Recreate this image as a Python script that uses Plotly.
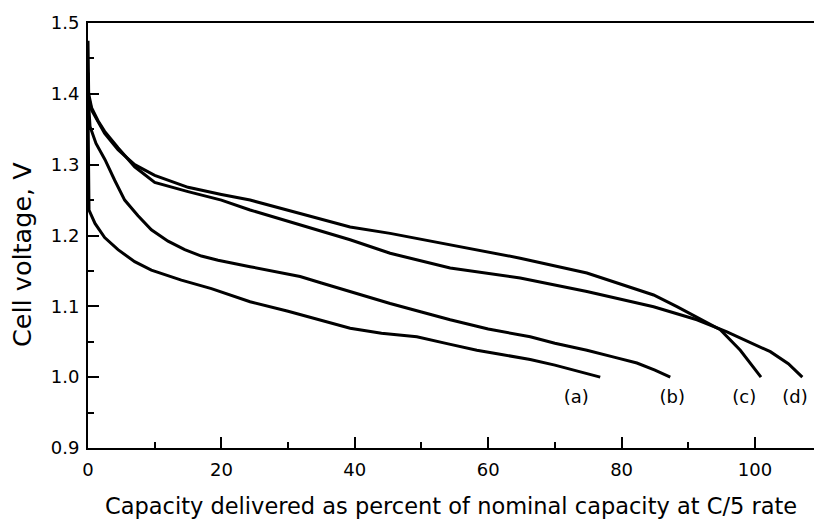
import plotly.graph_objects as go

# Curve (a)
a_x = [0, 0.15, 1.05, 2.5, 4.5, 7, 9.5, 14, 18.5, 24.3, 30, 35, 39.3, 44, 49.3, 54, 58.3, 62, 66.3, 70, 74, 76.8]
a_y = [1.38, 1.236, 1.217, 1.197, 1.18, 1.163, 1.151, 1.137, 1.125, 1.1065, 1.093, 1.08, 1.069, 1.062, 1.057, 1.047, 1.038, 1.032, 1.025, 1.017, 1.007, 1.0]

# Curve (b)
b_x = [0, 0.1, 0.3, 1.2, 2.55, 4, 5.5, 7.5, 9.5, 12, 14.5, 17, 19.5, 24.3, 27, 31.8, 35, 39.3, 45.3, 50, 54.3, 60, 66.3, 70, 74.8, 79, 82.3, 85, 87.3]
b_y = [1.40, 1.385, 1.354, 1.33, 1.307, 1.278, 1.25, 1.228, 1.208, 1.192, 1.18, 1.171, 1.165, 1.156, 1.151, 1.142, 1.133, 1.121, 1.104, 1.092, 1.081, 1.068, 1.057, 1.048, 1.038, 1.028, 1.020, 1.010, 1.0]

# Curve (c)
c_x = [0, 0.1, 0.55, 1.5, 2.5, 4.5, 7, 10, 15, 20, 24.3, 31.8, 39.3, 45.3, 54.3, 64.8, 74.8, 79.8, 84.8, 88.3, 91.3, 94.8, 97.8, 99.7, 100.9]
c_y = [1.43, 1.395, 1.377, 1.36, 1.344, 1.321, 1.300, 1.285, 1.268, 1.258, 1.250, 1.231, 1.212, 1.203, 1.187, 1.168, 1.147, 1.132, 1.116, 1.0995, 1.085, 1.067, 1.038, 1.015, 1.0]

# Curve (d)
d_x = [0, 0.1, 0.55, 1.5, 2.5, 4.5, 7, 10, 15, 20, 24.3, 31.8, 39.3, 45.3, 54.3, 64.8, 74.8, 84.8, 91.3, 95.8, 99, 102.3, 105, 107.1]
d_y = [1.475, 1.40, 1.380, 1.362, 1.347, 1.324, 1.297, 1.275, 1.262, 1.250, 1.236, 1.215, 1.194, 1.175, 1.154, 1.140, 1.121, 1.0995, 1.081, 1.064, 1.050, 1.036, 1.019, 1.0]

labels = ["(a)", "(b)", "(c)", "(d)"]
label_x = [73.2, 87.6, 98.4, 106.0]
label_y = [0.970, 0.970, 0.970, 0.970]

x_ticks = [0, 20, 40, 60, 80, 100]
y_ticks = [0.9, 1.0, 1.1, 1.2, 1.3, 1.4, 1.5]

x_title = "Capacity delivered as percent of nominal capacity at C/5 rate"
y_title = "Cell voltage, V"

FONT = "DejaVu Sans, Liberation Sans, Arial, sans-serif"

fig = go.Figure()
for xs, ys in [(a_x, a_y), (b_x, b_y), (c_x, c_y), (d_x, d_y)]:
    fig.add_trace(go.Scatter(x=xs, y=ys, mode="lines",
                             line=dict(color="black", width=3),
                             showlegend=False, hoverinfo="skip"))

fig.add_trace(go.Scatter(x=label_x, y=label_y, mode="text", text=labels,
                         textfont=dict(family=FONT, size=18, color="black"),
                         showlegend=False, hoverinfo="skip"))

fig.add_annotation(text=x_title, xref="paper", yref="paper", x=0.5, y=0,
                   xanchor="center", yanchor="middle", yshift=-58, showarrow=False,
                   font=dict(family=FONT, size=22.5, color="black"))
fig.add_annotation(text=y_title, xref="paper", yref="y", x=0, y=1.1725,
                   xanchor="center", yanchor="middle", xshift=-66, showarrow=False,
                   textangle=-90, font=dict(family=FONT, size=25.5, color="black"))

fig.update_layout(
    width=814, height=519,
    margin=dict(l=88, r=0, t=23, b=71),
    paper_bgcolor="white", plot_bgcolor="white",
    font=dict(family=FONT, color="black"),
    xaxis=dict(
        range=[0, 108.85], tickvals=x_ticks, ticktext=[str(v) for v in x_ticks],
        ticks="inside", ticklen=11, tickwidth=2, tickcolor="black",
        minor=dict(dtick=10, tick0=0, ticks="inside", ticklen=6, tickwidth=2, tickcolor="black"),
        showline=True, linecolor="black", linewidth=2, mirror=True,
        showgrid=False, zeroline=False, ticklabelstandoff=4,
        tickfont=dict(size=18, family=FONT),
    ),
    yaxis=dict(
        range=[0.9, 1.5], tickvals=y_ticks, ticktext=[f"{v:.1f}" for v in y_ticks],
        ticks="inside", ticklen=11, tickwidth=2, tickcolor="black",
        minor=dict(dtick=0.05, tick0=0.9, ticks="inside", ticklen=6, tickwidth=2, tickcolor="black"),
        showline=True, linecolor="black", linewidth=2, mirror=False,
        showgrid=False, zeroline=False, ticklabelstandoff=3,
        tickfont=dict(size=18, family=FONT),
    ),
)

fig.write_html("out.html")
